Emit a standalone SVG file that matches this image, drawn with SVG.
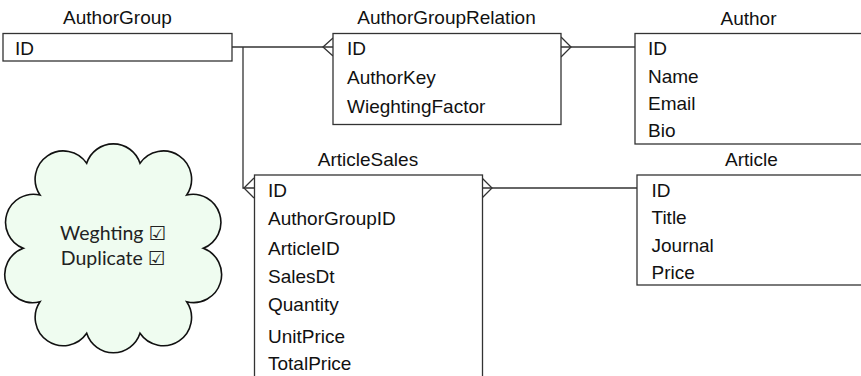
<svg xmlns="http://www.w3.org/2000/svg" width="861" height="376" viewBox="0 0 861 376">
  <style>
    .box { fill: #ffffff; stroke: #333333; stroke-width: 1.3; }
    .t { font-family: "Liberation Sans", Arial, sans-serif; font-size: 19px; fill: #111111; }
    .title { text-anchor: middle; }
    .conn { fill: none; stroke: #333333; stroke-width: 1.3; }
    .cloud { fill: #effcf0; stroke: #111111; stroke-width: 1.6; }
    .ct { font-family: Lato, "Liberation Sans", sans-serif; font-size: 19.5px; fill: #222222; text-anchor: middle; }
    .ck { font-family: "DejaVu Sans", sans-serif; font-weight: bold; }
  </style>
  <rect width="861" height="376" fill="#ffffff"/>

  <g id="connectors">
    <path class="conn" d="M232,47 H333"/>
    <path class="conn" d="M333,38 L323,47 L333,56"/>
    <path class="conn" d="M243,47 V188 H254"/>
    <path class="conn" d="M254,178 L244,188 L254,198"/>
    <path class="conn" d="M561,47 H635"/>
    <path class="conn" d="M561,37 L571,47 L561,57"/>
    <path class="conn" d="M482,188 H637"/>
    <path class="conn" d="M482,178 L492,188 L482,198"/>
  </g>

  <g id="AuthorGroup">
    <text class="t title" x="117.5" y="23.5">AuthorGroup</text>
    <rect class="box" x="3" y="33.5" width="229" height="27.5"/>
    <text class="t" x="15" y="55">ID</text>
  </g>

  <g id="AuthorGroupRelation">
    <text class="t title" x="446.5" y="23.5">AuthorGroupRelation</text>
    <rect class="box" x="333" y="33.5" width="228" height="91"/>
    <text class="t" x="347" y="55">ID</text>
    <text class="t" x="347" y="84">AuthorKey</text>
    <text class="t" x="347" y="113">WieghtingFactor</text>
  </g>

  <g id="Author">
    <text class="t title" x="748.5" y="25">Author</text>
    <rect class="box" x="635" y="33.5" width="240" height="110.5"/>
    <text class="t" x="648" y="55">ID</text>
    <text class="t" x="648" y="82.5">Name</text>
    <text class="t" x="648" y="110">Email</text>
    <text class="t" x="648" y="136.5">Bio</text>
  </g>

  <g id="ArticleSales">
    <text class="t title" x="368" y="166">ArticleSales</text>
    <rect class="box" x="254.5" y="175" width="228" height="220"/>
    <text class="t" x="268" y="196.5">ID</text>
    <text class="t" x="268" y="225">AuthorGroupID</text>
    <text class="t" x="268" y="255">ArticleID</text>
    <text class="t" x="268" y="283">SalesDt</text>
    <text class="t" x="268" y="311">Quantity</text>
    <text class="t" x="268" y="342.5">UnitPrice</text>
    <text class="t" x="268" y="370">TotalPrice</text>
  </g>

  <g id="Article">
    <text class="t title" x="751.5" y="166">Article</text>
    <rect class="box" x="637" y="175" width="240" height="110"/>
    <text class="t" x="651.5" y="196.5">ID</text>
    <text class="t" x="651.5" y="223.5">Title</text>
    <text class="t" x="651.5" y="251.5">Journal</text>
    <text class="t" x="651.5" y="278.5">Price</text>
  </g>

  <g id="Cloud">
    <path class="cloud" d="M86.7,163.3 A28,28 0 0 1 140,163.3 A28,28 0 0 1 186.7,195 A28,28 0 0 1 203.3,248.3 A28,28 0 0 1 186.7,301.7 A28,28 0 0 1 140,333.3 A28,28 0 0 1 86.7,333.3 A28,28 0 0 1 40,301.7 A28,28 0 0 1 23.3,248.3 A28,28 0 0 1 40,195 A28,28 0 0 1 86.7,163.3 Z"/>
    <text class="ct" x="113" y="239.5">Weghting <tspan class="ck">☑</tspan></text>
    <text class="ct" x="113" y="265">Duplicate <tspan class="ck">☑</tspan></text>
  </g>
</svg>
